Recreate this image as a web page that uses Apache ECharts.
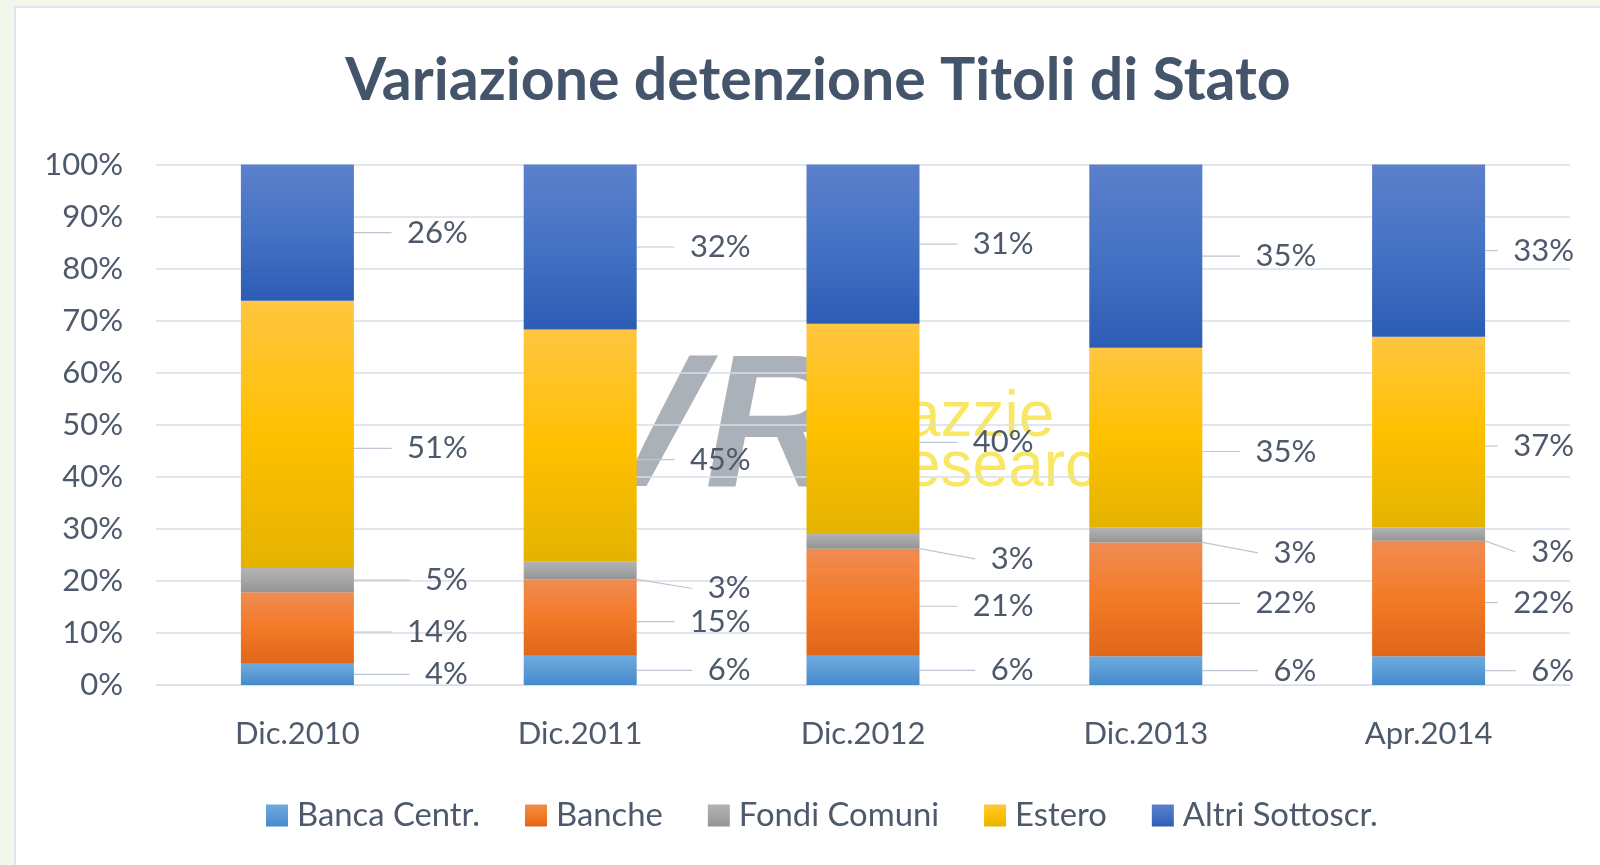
<!DOCTYPE html>
<html>
<head>
<meta charset="utf-8">
<title>Variazione detenzione Titoli di Stato</title>
<script src="https://cdn.jsdelivr.net/npm/echarts@6/dist/echarts.min.js"></script>
<style>
    html, body { margin: 0; padding: 0; background: #f3f6eb; overflow: hidden; }
    #frame { position: absolute; left: 14px; top: 6px; width: 1600px; height: 880px; background: #fff; border: 2px solid #dde4ec; }
    #main { position: absolute; left: 0; top: 0; width: 1600px; height: 865px; }
</style>
</head>
<body>
<div id="frame"></div>
<div id="main"></div>
<script>
// categorie e quote (%)
var categories = ['Dic.2010', 'Dic.2011', 'Dic.2012', 'Dic.2013', 'Apr.2014'];
var bancaCentr = [4.1, 5.6, 5.6, 5.5, 5.5];
var banche = [13.7, 14.7, 20.6, 21.9, 22.2];
var fondiComuni = [4.7, 3.4, 3.0, 2.9, 2.6];
var estero = [51.3, 44.6, 40.2, 34.5, 36.6];
var altri = [26.2, 31.7, 30.6, 35.2, 33.1];
var yTicks = [0, 100, 10]; // min, max, interval

var txtColor = '#4e5a6c';
var font = 'Lato';

function grad(top, mid, bottom) {
    return new echarts.graphic.LinearGradient(0, 0, 0, 1, [
        { offset: 0, color: top },
        { offset: 0.5, color: mid },
        { offset: 1, color: bottom }
    ]);
}

// dy: spostamento verticale delle etichette (come fa Excel)
function serie(name, data, color, dy) {
    return {
        name: name,
        type: 'bar',
        stack: 'tot',
        barWidth: 113,
        data: data,
        itemStyle: { color: color },
        label: {
            show: true,
            position: 'right',
            fontFamily: font,
            fontSize: 31,
            color: txtColor,
            formatter: function(p) {
                return '\u2002' + Math.round(p.value) + '%';
            }
        },
        labelLine: {
            show: true,
            lineStyle: { color: '#bcc6d3', width: 1.2 }
        },
        labelLayout: function(p) {
            var right = p.rect.x + p.rect.width;
            var off = dy || 0;
            if (p.rect.height < 20) off = 18; // segmenti piccoli: etichetta più in basso
            return {
                x: Math.min(right + 114, 1574),
                y: p.rect.y + p.rect.height / 2 + off,
                align: 'right',
                verticalAlign: 'middle'
            };
        }
    };
}

var chart = echarts.init(document.getElementById('main'));

var option = {
    backgroundColor: 'transparent',
    title: {
        text: 'Variazione detenzione Titoli di Stato',
        left: 813,
        top: 46,
        textAlign: 'center',
        textStyle: {
            fontFamily: font,
            fontWeight: 'bold',
            fontSize: 59,
            color: '#44546a'
        }
    },
    legend: {
        left: 266,
        top: 799,
        padding: 0,
        itemWidth: 22,
        itemHeight: 22,
        itemGap: 45,
        icon: 'rect',
        textStyle: {
            fontFamily: font,
            fontSize: 32.8,
            color: txtColor,
            padding: [0, 0, 0, 4]
        }
    },
    grid: {
        left: 156,
        right: 30,
        top: 164.5,
        bottom: 180
    },
    xAxis: {
        type: 'category',
        data: categories,
        axisLine: { lineStyle: { color: '#d9dfe8' } },
        axisTick: { show: false },
        axisLabel: {
            margin: 33,
            fontFamily: font,
            fontSize: 31,
            color: txtColor
        }
    },
    yAxis: {
        type: 'value',
        min: yTicks[0],
        max: yTicks[1],
        interval: yTicks[2],
        axisLine: { show: false },
        axisTick: { show: false },
        splitLine: { lineStyle: { color: '#d9dfe8', width: 1.5 } },
        axisLabel: {
            margin: 33,
            fontFamily: font,
            fontSize: 31,
            color: txtColor,
            formatter: '{value}%'
        }
    },
    graphic: [
        {
            type: 'text',
            z: -1,
            style: {
                text: 'VR',
                x: 578,
                y: 434,
                font: 'italic bold 190px "Liberation Sans"',
                fill: '#abb1b8',
                verticalAlign: 'middle'
            }
        },
        {
            type: 'text',
            z: -1,
            style: {
                text: 'azzie',
                x: 905,
                y: 418,
                font: '64px "Liberation Sans"',
                fill: 'rgba(247, 222, 40, 0.72)',
                verticalAlign: 'middle'
            }
        },
        {
            type: 'text',
            z: -1,
            style: {
                text: 'esearch',
                x: 905,
                y: 468,
                font: '64px "Liberation Sans"',
                fill: 'rgba(247, 222, 40, 0.72)',
                verticalAlign: 'middle'
            }
        }
    ],
    series: [
        serie('Banca Centr.', bancaCentr, grad('#6eaae0', '#5b9bd5', '#4689cc'), 0),
        serie('Banche', banche, grad('#f08c52', '#f37a26', '#e0661a'), 4),
        serie('Fondi Comuni', fondiComuni, grad('#b3b3b3', '#a5a5a5', '#949494'), 0),
        serie('Estero', estero, grad('#ffc640', '#ffc000', '#e4b300'), 14),
        serie('Altri Sottoscr.', altri, grad('#5c80cb', '#4472c4', '#2d5cb5'), 0)
    ]
};

chart.setOption(option);
</script>
</body>
</html>
